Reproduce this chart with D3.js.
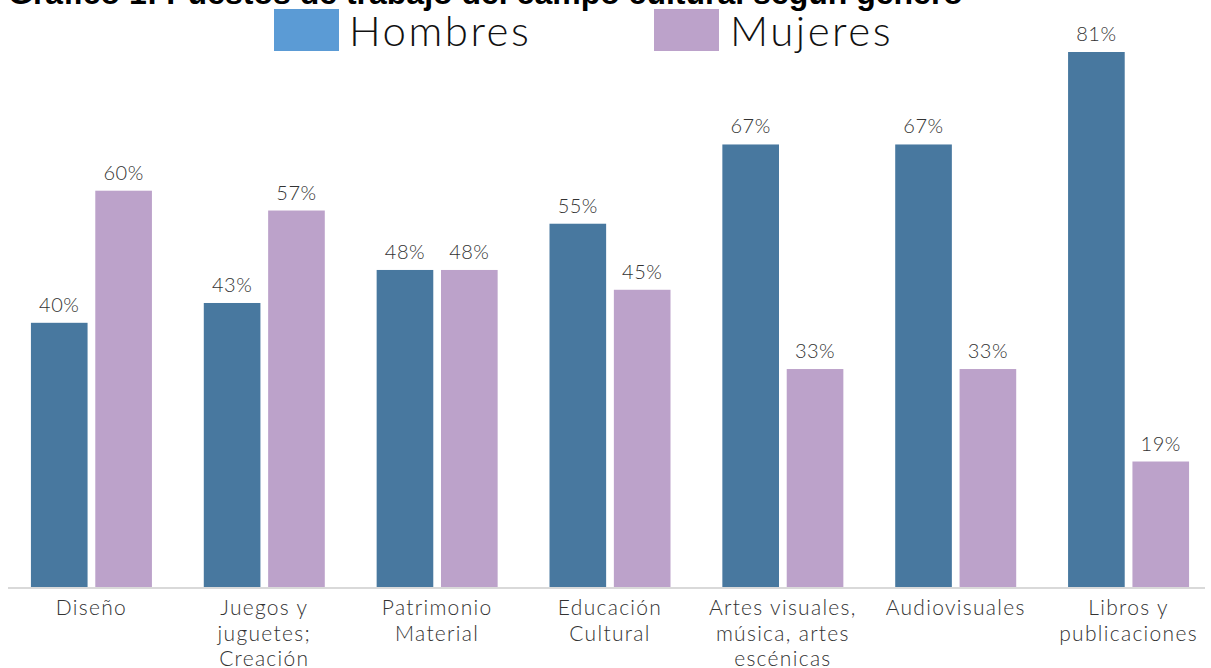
<!DOCTYPE html>
<html>
<head>
<meta charset="utf-8">
<script src="https://cdn.jsdelivr.net/npm/d3@7"></script>
<style>
  body { margin: 0; background: #fff; }
  svg text { font-family: Lato, "Open Sans", sans-serif; }
</style>
</head>
<body>
<svg id="chart" width="1211" height="668"></svg>
<script>
// Data
var categories = [
  ['Diseño'],
  ['Juegos y', 'juguetes;', 'Creación'],
  ['Patrimonio', 'Material'],
  ['Educación', 'Cultural'],
  ['Artes visuales,', 'música, artes', 'escénicas'],
  ['Audiovisuales'],
  ['Libros y', 'publicaciones']
];
var series = ['Hombres', 'Mujeres'];
var hombres = [40, 43, 48, 55, 67, 67, 81];
var mujeres = [60, 57, 48, 45, 33, 33, 19];
var title = 'Gráfico 1: Puestos de trabajo del campo cultural según género';

// Colours
var barColor = {Hombres: '#48789f', Mujeres: '#bca2ca'};
var legendColor = {Hombres: '#5b9bd5', Mujeres: '#bca2ca'};

var svg = d3.select('#chart');

var baseY = 587;

var x0 = d3.scaleBand()
  .domain(d3.range(categories.length))
  .range([5, 1215])
  .paddingInner(0.3)
  .paddingOuter(0.15);

var x1 = d3.scaleBand()
  .domain(series)
  .range([0, x0.bandwidth()])
  .paddingInner(0.12);

var y = d3.scaleLinear()
  .domain([0, 81])
  .range([baseY, 52]);

// Title (clipped at the top like the source)
svg.append('text')
  .attr('x', 8)
  .attr('y', 4)
  .style('font-family', '"Liberation Sans", Arial, sans-serif')
  .style('font-weight', 'bold')
  .style('font-size', '32px')
  .attr('fill', '#000')
  .text(title);

// Legend
var legend = [
  {name: 'Hombres', x: 274, tx: 349},
  {name: 'Mujeres', x: 654, tx: 730}
];
legend.forEach(function (l) {
  svg.append('rect')
    .attr('x', l.x)
    .attr('y', 9)
    .attr('width', 65)
    .attr('height', 42)
    .attr('fill', legendColor[l.name]);
  svg.append('text')
    .attr('x', l.tx)
    .attr('y', 46)
    .style('font-size', '42px')
    .style('font-weight', 300)
    .style('letter-spacing', '2.5px')
    .attr('fill', '#111')
    .text(l.name);
});

// Axis line
svg.append('line')
  .attr('x1', 8).attr('x2', 1205)
  .attr('y1', baseY + 1).attr('y2', baseY + 1)
  .attr('stroke', '#d9d9d9')
  .attr('stroke-width', 2);

// Bars
var rows = categories.map(function (c, i) {
  return {i: i, values: [
    {key: 'Hombres', value: hombres[i]},
    {key: 'Mujeres', value: mujeres[i]}
  ]};
});

var groups = svg.selectAll('g.group')
  .data(rows)
  .enter().append('g')
  .attr('class', 'group')
  .attr('transform', function (d) { return 'translate(' + x0(d.i) + ',0)'; });

groups.selectAll('rect')
  .data(function (d) { return d.values; })
  .enter().append('rect')
  .attr('x', function (d) { return x1(d.key); })
  .attr('y', function (d) { return y(d.value); })
  .attr('width', x1.bandwidth())
  .attr('height', function (d) { return baseY - y(d.value); })
  .attr('fill', function (d) { return barColor[d.key]; });

groups.selectAll('text.val')
  .data(function (d) { return d.values; })
  .enter().append('text')
  .attr('class', 'val')
  .attr('x', function (d) { return x1(d.key) + x1.bandwidth() / 2; })
  .attr('y', function (d) { return y(d.value) - 11; })
  .attr('text-anchor', 'middle')
  .style('font-size', '20px')
  .style('font-weight', 300)
  .style('letter-spacing', '0.5px')
  .attr('fill', '#333')
  .text(function (d) { return d.value + '%'; });

// Category labels
var labels = svg.selectAll('text.cat')
  .data(categories)
  .enter().append('text')
  .attr('class', 'cat')
  .attr('text-anchor', 'middle')
  .attr('x', function (d, i) { return x0(i) + x0.bandwidth() / 2; })
  .attr('y', 615)
  .style('font-size', '21px')
  .style('font-weight', 300)
  .style('letter-spacing', '1.3px')
  .attr('fill', '#333');

labels.selectAll('tspan')
  .data(function (d) { return d; })
  .enter().append('tspan')
  .attr('x', function () { return d3.select(this.parentNode).attr('x'); })
  .attr('dy', function (d, i) { return i === 0 ? 0 : 25.5; })
  .text(function (d) { return d; });
</script>
</body>
</html>
